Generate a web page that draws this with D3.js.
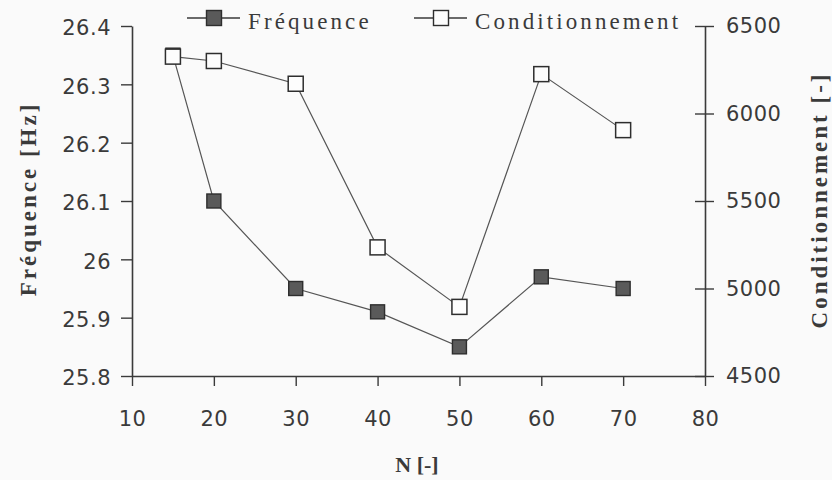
<!DOCTYPE html>
<html>
<head>
<meta charset="utf-8">
<script src="https://cdn.jsdelivr.net/npm/d3@7"></script>
<style>
  html, body { margin: 0; padding: 0; background: #fafafa; }
  svg { display: block; }
</style>
</head>
<body>
<svg id="chart" width="832" height="480"></svg>
<script>
// ---- data ----
const nValues = [15, 20, 30, 40, 50, 60, 70];
const frequence = [26.35, 26.10, 25.95, 25.91, 25.85, 25.97, 25.95];
const conditionnement = [6325, 6300, 6170, 5235, 4895, 6225, 5905];
const xTicks = [10, 20, 30, 40, 50, 60, 70, 80];
const leftTicks = [25.8, 25.9, 26.0, 26.1, 26.2, 26.3, 26.4];
const rightTicks = [4500, 5000, 5500, 6000, 6500];
const seriesNames = ["Fréquence", "Conditionnement"];
const axisTitles = { left: "Fréquence [Hz]", right: "Conditionnement [-]", bottom: "N [-]" };

// ---- layout ----
const svg = d3.select("#chart");
const plot = { left: 132, right: 705, top: 26, bottom: 376 };
const ink = "#3a3a3a";
const x = d3.scaleLinear().domain([10, 80]).range([plot.left, plot.right]);
const yL = d3.scaleLinear().domain([25.8, 26.4]).range([plot.bottom, plot.top]);
const yR = d3.scaleLinear().domain([4500, 6500]).range([plot.bottom, plot.top]);

const tickFont = "'DejaVu Sans', sans-serif";
const serif = "'Liberation Serif', 'Times New Roman', serif";

function styleAxis(g) {
  g.select(".domain").attr("stroke", ink).attr("stroke-width", 1.6);
  g.selectAll(".tick line").attr("stroke", ink).attr("stroke-width", 1.4);
  g.selectAll(".tick text").attr("fill", ink).attr("font-family", tickFont)
    .attr("font-size", 21).style("letter-spacing", "0.5px");
}

// bottom axis
const gx = svg.append("g").attr("transform", `translate(0,${plot.bottom})`)
  .call(d3.axisBottom(x).tickValues(xTicks).tickFormat(d3.format("d"))
    .tickSizeInner(10).tickSizeOuter(0).tickPadding(25));
styleAxis(gx);

// left axis
const gl = svg.append("g").attr("transform", `translate(${plot.left},0)`)
  .call(d3.axisLeft(yL).tickValues(leftTicks)
    .tickFormat(d => d === 26 ? "26" : d3.format(".1f")(d))
    .tickSizeInner(11).tickSizeOuter(0).tickPadding(10));
styleAxis(gl);
gl.selectAll(".tick text").attr("dy", "0.42em");

// right axis (ticks cross the axis)
const gr = svg.append("g").attr("transform", `translate(${plot.right},0)`)
  .call(d3.axisRight(yR).tickValues(rightTicks).tickFormat(d3.format("d"))
    .tickSizeInner(9).tickSizeOuter(0).tickPadding(12));
styleAxis(gr);
gr.selectAll(".tick line").attr("x1", -10).attr("x2", 9);

// ---- lines ----
const lineL = d3.line().x((d, i) => x(nValues[i])).y(d => yL(d));
const lineR = d3.line().x((d, i) => x(nValues[i])).y(d => yR(d));

svg.append("path").datum(frequence).attr("d", lineL)
  .attr("fill", "none").attr("stroke", "#555").attr("stroke-width", 1.2);
svg.append("path").datum(conditionnement).attr("d", lineR)
  .attr("fill", "none").attr("stroke", "#555").attr("stroke-width", 1.2);

const ms = 14;
svg.append("g").selectAll("rect").data(frequence).join("rect")
  .attr("x", (d, i) => x(nValues[i]) - ms / 2)
  .attr("y", d => yL(d) - ms / 2)
  .attr("width", ms).attr("height", ms)
  .attr("fill", "#5a5a5a").attr("stroke", "#2e2e2e").attr("stroke-width", 1.4);

const ms2 = 15;
svg.append("g").selectAll("rect").data(conditionnement).join("rect")
  .attr("x", (d, i) => x(nValues[i]) - ms2 / 2)
  .attr("y", d => yR(d) - ms2 / 2)
  .attr("width", ms2).attr("height", ms2)
  .attr("fill", "#fdfdfd").attr("stroke", "#2e2e2e").attr("stroke-width", 1.5);

// ---- legend ----
const legend = [
  { name: seriesNames[0], x0: 187, filled: true },
  { name: seriesNames[1], x0: 414, filled: false }
];
const ly = 18;
legend.forEach(l => {
  svg.append("line").attr("x1", l.x0).attr("x2", l.x0 + 53)
    .attr("y1", ly).attr("y2", ly).attr("stroke", ink).attr("stroke-width", 1.5);
  svg.append("rect").attr("x", l.x0 + 27 - 7.5).attr("y", ly - 7.5)
    .attr("width", 15).attr("height", 15)
    .attr("fill", l.filled ? "#5a5a5a" : "#fdfdfd")
    .attr("stroke", "#2e2e2e").attr("stroke-width", 1.4);
  svg.append("text").attr("x", l.x0 + 61).attr("y", ly + 11)
    .attr("font-family", serif).attr("font-size", 23)
    .style("letter-spacing", "3.1px").attr("fill", ink).text(l.name);
});

// ---- axis titles ----
svg.append("text")
  .attr("transform", `translate(36,199) rotate(-90)`)
  .attr("text-anchor", "middle").attr("font-family", serif).attr("font-weight", "bold")
  .attr("font-size", 23).style("letter-spacing", "3px").attr("fill", ink)
  .text(axisTitles.left);

svg.append("text")
  .attr("transform", `translate(827,200) rotate(-90)`)
  .attr("text-anchor", "middle").attr("font-family", serif).attr("font-weight", "bold")
  .attr("font-size", 23).style("letter-spacing", "3px").attr("fill", ink)
  .text(axisTitles.right);

svg.append("text")
  .attr("x", 417).attr("y", 472)
  .attr("text-anchor", "middle").attr("font-family", serif).attr("font-weight", "bold")
  .attr("font-size", 22).attr("fill", ink)
  .text(axisTitles.bottom);
</script>
</body>
</html>
